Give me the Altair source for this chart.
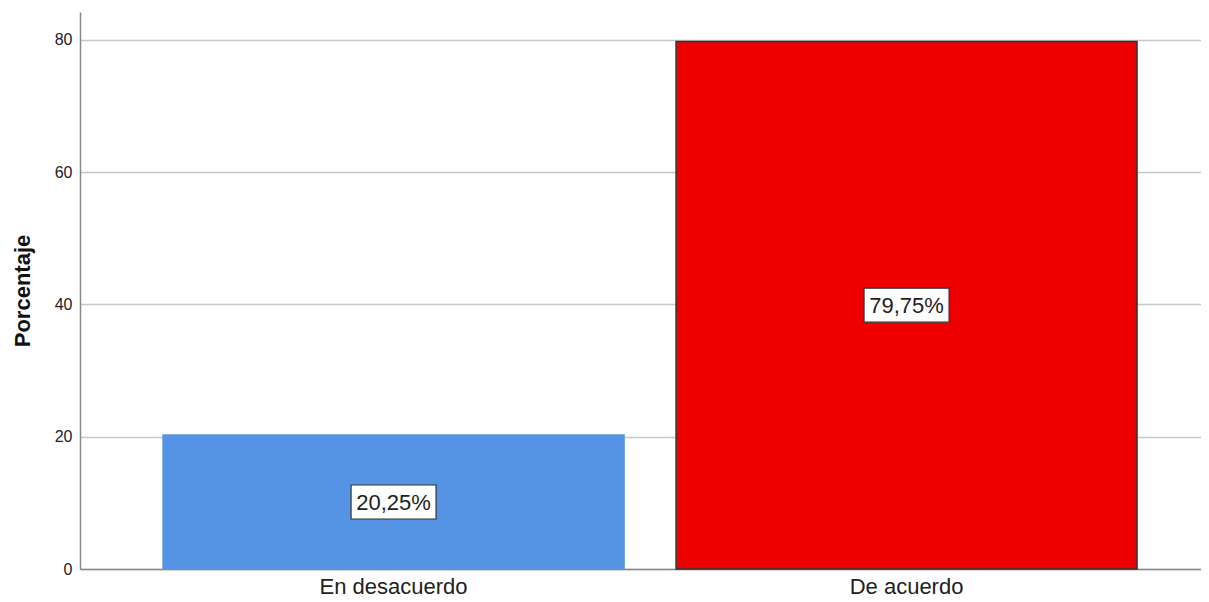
import altair as alt
import pandas as pd

categorias = ["En desacuerdo", "De acuerdo"]
porcentajes = [20.25, 79.75]
etiquetas = ["20,25%", "79,75%"]
colores = ["#5594E4", "#EE0000"]
bordes = ["#5594E4", "#333333"]

df = pd.DataFrame({"cat": categorias, "pct": porcentajes, "lab": etiquetas,
                   "col": colores, "brd": bordes})

xscale = alt.Scale(domain=categorias, paddingInner=0.1014, paddingOuter=0.1433, align=0.565)
yscale = alt.Scale(domain=[0, 84.2], nice=False)

x = alt.X("cat:N", scale=xscale, sort=categorias, title=None,
          axis=alt.Axis(labelAngle=0, grid=False))

base = alt.Chart(df)

bars = base.mark_bar(strokeWidth=1.5).encode(
    x=x,
    y=alt.Y("pct:Q", scale=yscale, title="Porcentaje",
            axis=alt.Axis(values=[0, 20, 40, 60, 80])),
    color=alt.Color("col:N", scale=None),
    stroke=alt.Stroke("brd:N", scale=None),
)

xn = alt.X("cat:N", scale=xscale, sort=categorias, title=None)
yn = alt.Y("mid:Q", scale=yscale, title="Porcentaje")

boxes = base.transform_calculate(mid="datum.pct / 2").mark_rect(
    width=85, height=34, fill="white", stroke="#333333", strokeWidth=1.2
).encode(x=xn, y=yn)

texts = base.transform_calculate(mid="datum.pct / 2").mark_text(
    font="Liberation Sans", fontSize=22, color="#222222", baseline="middle", dy=1
).encode(x=xn, y=yn, text="lab:N")

chart = alt.layer(bars, boxes, texts).properties(
    width=1121, height=557,
    background="white",
    autosize=alt.AutoSizeParams(type="none"),
    padding={"left": 72, "top": 4, "right": 0, "bottom": 30},
).configure_view(stroke=None).configure_axis(
    labelFont="Liberation Sans", labelColor="#222222", ticks=False,
    domainColor="#888888", domainWidth=1.5,
    titleFont="Liberation Sans", titleColor="#111111",
).configure_axisX(
    labelFontSize=22, labelPadding=7, labelAngle=0, grid=False,
).configure_axisY(
    labelFontSize=16, labelPadding=8, gridColor="#c8c8c8", gridWidth=1.5,
    titleFontSize=22, titleFontWeight="bold", titlePadding=20,
)

chart.save("out.html", embed_options={"renderer": "svg", "actions": False})
